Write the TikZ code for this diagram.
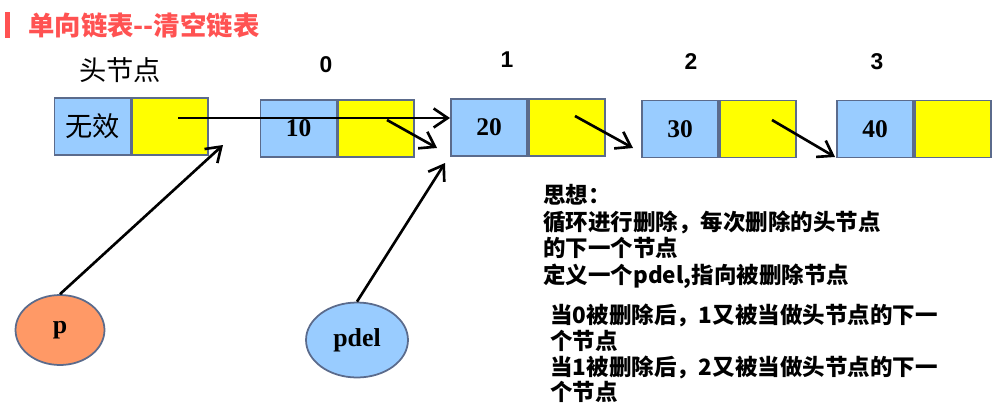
\documentclass[tikz,border=0pt]{standalone}
\usepackage{fontspec}
\setmainfont{Liberation Serif}
\setsansfont{Liberation Sans}
\newfontfamily\cjk{Noto Sans CJK SC}
\usetikzlibrary{positioning,arrows.meta,shapes.geometric}
\definecolor{cellblue}{HTML}{99CCFF}
\definecolor{cellyellow}{HTML}{FFFF00}
\definecolor{cellline}{HTML}{5B6B8C}
\definecolor{titlered}{HTML}{FF5252}
\definecolor{porange}{HTML}{FF9966}

\begin{document}
\begin{tikzpicture}[
  x=0.02cm, y=-0.02cm,
  >={Straight Barb[length=2.8mm,width=3.8mm]},
  datacell/.style={draw=cellline,line width=1pt,fill=cellblue,minimum width=1.52cm,
    minimum height=1.14cm,inner sep=0pt,font=\bfseries\fontsize{14.5}{14.5}\selectfont},
  ptrcell/.style={datacell,fill=cellyellow},
  idx/.style={font=\sffamily\bfseries\fontsize{13}{13}\selectfont},
  pointer/.style={ellipse,draw=cellline,line width=1pt,inner sep=0pt,
    font=\bfseries\fontsize{14.7}{14.7}\selectfont},
  link/.style={->,line width=1.5pt},
  note/.style={anchor=north west,align=left,inner sep=0pt,
    font=\cjk\bfseries\fontsize{12.8}{15.1}\selectfont}
]
  \useasboundingbox (0,0) rectangle (996,409);

  % Title.
  \fill[titlered] (5,12) rectangle (10,38);
  \node[anchor=west,inner sep=0pt,text=titlered,font=\cjk\bfseries\fontsize{15}{15}\selectfont]
    (title) at (28,25) {单向链表--清空链表};

  % Head node.
  \node[font=\cjk\fontsize{15.5}{15.5}\selectfont] (hlabel) at (120,70) {头节点};
  \node[datacell,font=\cjk\fontsize{15.5}{15.5}\selectfont] (hd) at (92.5,126.5) {无效};
  \node[ptrcell,right=0pt of hd] (hp) {};

  % Data nodes.
  \node[idx] (i0) at (326,65) {0};
  \node[datacell] (d0) at (298.5,128.5) {10};
  \node[ptrcell,right=0pt of d0] (p0) {};

  \node[idx] (i1) at (507,60) {1};
  \node[datacell] (d1) at (489,127.5) {20};
  \node[ptrcell,right=0pt of d1] (p1) {};

  \node[idx] (i2) at (691,62) {2};
  \node[datacell] (d2) at (680,129) {30};
  \node[ptrcell,right=0pt of d2] (p2) {};

  \node[idx] (i3) at (877,62) {3};
  \node[datacell] (d3) at (875,129) {40};
  \node[ptrcell,right=0pt of d3] (p3) {};

  % Pointers.
  \node[pointer,fill=porange,minimum width=1.78cm,minimum height=1.4cm] (p) at (60,330) {p};
  \node[pointer,fill=cellblue,minimum width=2.04cm,minimum height=1.5cm] (pdel) at (357,340) {pdel};

  % Links.
  \coordinate (hs) at (178,118);
  \coordinate (he) at (450,118);
  \coordinate (s0) at (387,120);
  \coordinate (e0) at (437,148);
  \coordinate (s1) at (575,116);
  \coordinate (e1) at (633,148);
  \coordinate (s2) at (772,120);
  \coordinate (e2) at (835,157);
  \coordinate (pe) at (223,145);
  \coordinate (de) at (445,163);
  \draw[link] (hs) -- (he);
  \draw[link] (s0) -- (e0);
  \draw[link] (s1) -- (e1);
  \draw[link] (s2) -- (e2);
  \draw[link] (p.north) -- (pe);
  \draw[link] (pdel.north) -- (de);

  % Notes.
  \node[note] (idea) at (543,184)
    {思想：\\循环进行删除，每次删除的头节点\\的下一个节点\\定义一个pdel,指向被删除节点};
  \node[note,font=\cjk\bfseries\fontsize{12.8}{14.6}\selectfont] (steps) at (550,304)
    {当0被删除后，1又被当做头节点的下一\\个节点\\当1被删除后，2又被当做头节点的下一\\个节点};
\end{tikzpicture}
\end{document}
